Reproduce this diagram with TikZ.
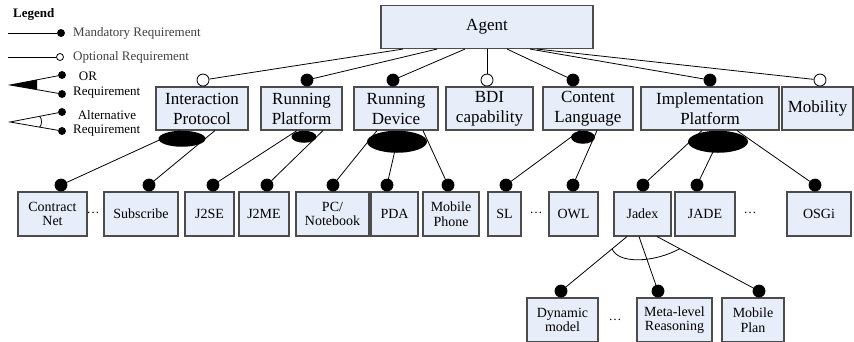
\documentclass[tikz,border=0pt]{standalone}
\usepackage{fontspec}
\setmainfont{Liberation Serif}
\usetikzlibrary{shapes.geometric,calc}
\definecolor{boxblue}{RGB}{231,237,249}
\begin{document}
\begin{tikzpicture}[x=1pt, y=-1pt,
    box/.style={draw=black!70, fill=boxblue, line width=1.1pt, inner sep=0pt, align=center},
    big/.style={box, minimum height=43pt, font=\fontsize{17}{20}\selectfont},
    small/.style={box, minimum height=44pt, font=\fontsize{14}{14.5}\selectfont},
    mand/.style={circle, draw, line width=0.8pt, fill=black, minimum size=12pt, inner sep=0pt, anchor=south},
    opt/.style={circle, draw, line width=0.8pt, fill=white, minimum size=12pt, inner sep=0pt, anchor=south},
    grp/.style={ellipse, fill=black, inner sep=0pt, anchor=north},
    ldot/.style={circle, draw, line width=0.8pt, fill=black, minimum size=7pt, inner sep=0pt},
    ltext/.style={font=\fontsize{13}{14}\selectfont, text=black!75, inner sep=0pt},
    more/.style={font=\fontsize{13}{14}\selectfont, inner sep=0pt},
    link/.style={line width=0.8pt}]
  \useasboundingbox (0,0) rectangle (854,341);

  % legend
  \node[font=\bfseries\fontsize{13}{14}\selectfont, anchor=west, inner sep=0pt] (legend) at (13,14) {Legend};
  \coordinate (m0) at (8,33);
  \node[ldot] (m1) at (61,33) {};
  \draw[link] (m0) -- (m1);
  \node[ltext, anchor=west] (mtxt) at (73,33) {Mandatory Requirement};
  \coordinate (o0) at (8,57);
  \node[ldot, fill=white] (o1) at (60,57) {};
  \draw[link] (o0) -- (o1);
  \node[ltext, anchor=west] (otxt) at (73,57) {Optional Requirement};
  \coordinate (or0) at (10,85);
  \node[ldot] (or1) at (62,75) {};
  \node[ldot] (or2) at (62,94) {};
  \draw[link] (or1) -- (or0) -- (or2);
  \fill (or0) -- ($(or0)!0.52!(or1)$) -- ($(or0)!0.52!(or2)$) -- cycle;
  \node[ltext, text=black] (ortxt) at (88,76) {OR};
  \node[ltext, text=black, anchor=west] (ortxt2) at (73,93) {Requirement};
  \coordinate (al0) at (10,122);
  \node[ldot] (al1) at (62,112) {};
  \node[ldot] (al2) at (62,131) {};
  \draw[link] (al1) -- (al0) -- (al2);
  \draw[link] ($(al0)!0.57!(al1)$) .. controls +(2.5,2) and +(2.5,-2) .. ($(al0)!0.57!(al2)$);
  \node[ltext, text=black] (altxt) at (107,115) {Alternative};
  \node[ltext, text=black, anchor=west] (altxt2) at (73,131) {Requirement};

  % top levels
  \node[big, minimum width=212pt] (agent) at (487,27) {Agent};
  \node[big, minimum width=92pt] (ip) at (202,108.5) {Interaction\\Protocol};
  \node[big, minimum width=81pt] (rp) at (301.5,108.5) {Running\\Platform};
  \node[big, minimum width=84pt] (rd) at (396,108.5) {Running\\Device};
  \node[big, minimum width=87pt] (bdi) at (489.5,108.5) {BDI\\capability};
  \node[big, minimum width=90pt] (cl) at (588,108.5) {Content\\Language};
  \node[big, minimum width=138pt] (impl) at (710,108.5) {Implementation\\Platform};
  \node[big, minimum width=71pt] (mob) at (817.5,108.5) {Mobility};

  \node[opt] (ipc) at ([xshift=1pt]ip.north) {};
  \node[mand] (rpc) at ([xshift=5.5pt]rp.north) {};
  \node[mand] (rdc) at ([xshift=-3pt]rd.north) {};
  \node[opt] (bdic) at ([xshift=-2.5pt]bdi.north) {};
  \node[mand] (clc) at ([xshift=-15pt]cl.north) {};
  \node[mand] (implc) at (impl.north) {};
  \node[opt] (mobc) at ([xshift=2.5pt]mob.north) {};

  \draw[link] ([xshift=-84pt]agent.south) -- (ipc);
  \draw[link] ([xshift=-50pt]agent.south) -- (rpc);
  \draw[link] ([xshift=-22pt]agent.south) -- (rdc);
  \draw[link] (agent.south) -- (bdic);
  \draw[link] ([xshift=20pt]agent.south) -- (clc);
  \draw[link] ([xshift=43pt]agent.south) -- (implc);
  \draw[link] ([xshift=50pt]agent.south) -- (mobc);

  % third level
  \node[small, minimum width=69pt] (cn) at (52.5,214) {Contract\\Net};
  \node[small, minimum width=74pt] (sub) at (141,214) {Subscribe};
  \node[small, minimum width=49pt] (j2se) at (209.5,214) {J2SE};
  \node[small, minimum width=50pt] (j2me) at (264,214) {J2ME};
  \node[small, minimum width=73pt] (pc) at (332.5,214) {PC/\\Notebook};
  \node[small, minimum width=47pt] (pda) at (394.5,214) {PDA};
  \node[small, minimum width=56pt] (mp) at (451,214) {Mobile\\Phone};
  \node[small, minimum width=33pt] (sl) at (504.5,214) {SL};
  \node[small, minimum width=49pt] (owl) at (573.5,214) {OWL};
  \node[small, minimum width=57pt] (jadex) at (642.5,214) {Jadex};
  \node[small, minimum width=60pt] (jade) at (705,214) {JADE};
  \node[small, minimum width=64pt] (osgi) at (819,214) {OSGi};
  \node[more] (dots1) at (93,213) {\ldots};
  \node[more] (dots2) at (536,213) {\ldots};
  \node[more] (dots3) at (750,213) {\ldots};

  \node[mand] (cnc) at ([xshift=8.5pt]cn.north) {};
  \node[mand] (subc) at ([xshift=8pt]sub.north) {};
  \node[mand] (j2sec) at ([xshift=3.5pt]j2se.north) {};
  \node[mand] (j2mec) at ([xshift=3pt]j2me.north) {};
  \node[mand] (pcc) at ([xshift=0.5pt]pc.north) {};
  \node[mand] (pdac) at ([xshift=-7.5pt]pda.north) {};
  \node[mand] (mpc) at ([xshift=-3pt]mp.north) {};
  \node[mand] (slc) at ([xshift=1.5pt]sl.north) {};
  \node[mand] (owlc) at ([xshift=-0.5pt]owl.north) {};
  \node[mand] (jadexc) at ([xshift=0.5pt]jadex.north) {};
  \node[mand] (jadec) at ([xshift=-8pt]jade.north) {};
  \node[mand] (osgic) at ([xshift=-4pt]osgi.north) {};

  \draw[link] ([xshift=-22pt]ip.south) -- (cnc);
  \draw[link] ([xshift=13pt]ip.south) -- (subc);
  \draw[link] ([xshift=-4.5pt]rp.south) -- (j2sec);
  \draw[link] ([xshift=21.5pt]rp.south) -- (j2mec);
  \draw[link] ([xshift=-19pt]rd.south) -- (pcc);
  \draw[link] ([xshift=1pt,yshift=-11pt]rd.south) -- (pdac);
  \draw[link] ([xshift=27pt]rd.south) -- (mpc);
  \draw[link] ([xshift=-8pt]cl.south) -- (slc);
  \draw[link] ([xshift=9pt]cl.south) -- (owlc);
  \draw[link] ([xshift=-8pt]impl.south) -- (jadexc);
  \draw[link] ([xshift=8pt,yshift=-11pt]impl.south) -- (jadec);
  \draw[link] ([xshift=27pt]impl.south) -- (osgic);

  \node[grp, minimum width=47pt, minimum height=16pt] (ipg) at ([xshift=-20pt]ip.south) {};
  \node[grp, minimum width=25pt, minimum height=12pt] (rpg) at ([xshift=2.5pt]rp.south) {};
  \node[grp, minimum width=60pt, minimum height=22pt] (rdg) at ([xshift=1pt]rd.south) {};
  \node[grp, minimum width=24pt, minimum height=13pt] (clg) at ([xshift=-5pt]cl.south) {};
  \node[grp, minimum width=60pt, minimum height=22pt] (implg) at ([xshift=8pt]impl.south) {};

  % fourth level
  \node[small, minimum width=71pt] (dm) at (562.5,320) {Dynamic\\model};
  \node[small, minimum width=75pt] (mr) at (674.5,320) {Meta-level\\Reasoning};
  \node[small, minimum width=62pt] (mpl) at (753,320) {Mobile\\Plan};
  \node[more] (dots4) at (615,320) {\ldots};

  \node[mand] (dmc) at ([xshift=-1.5pt]dm.north) {};
  \node[mand] (mrc) at ([xshift=-16.5pt]mr.north) {};
  \node[mand] (mplc) at ([xshift=6pt]mpl.north) {};

  \draw[link] ([xshift=-15.5pt]jadex.south) -- (dmc);
  \draw[link] ([xshift=-3.5pt]jadex.south) -- (mrc);
  \draw[link] ([xshift=14.5pt]jadex.south) -- (mplc);
  \draw[link] ($(jadex.south)+(-30.5,12)$) .. controls +(6,16) and +(-25,14) .. ($(jadex.south)+(37.5,12)$);
\end{tikzpicture}
\end{document}
